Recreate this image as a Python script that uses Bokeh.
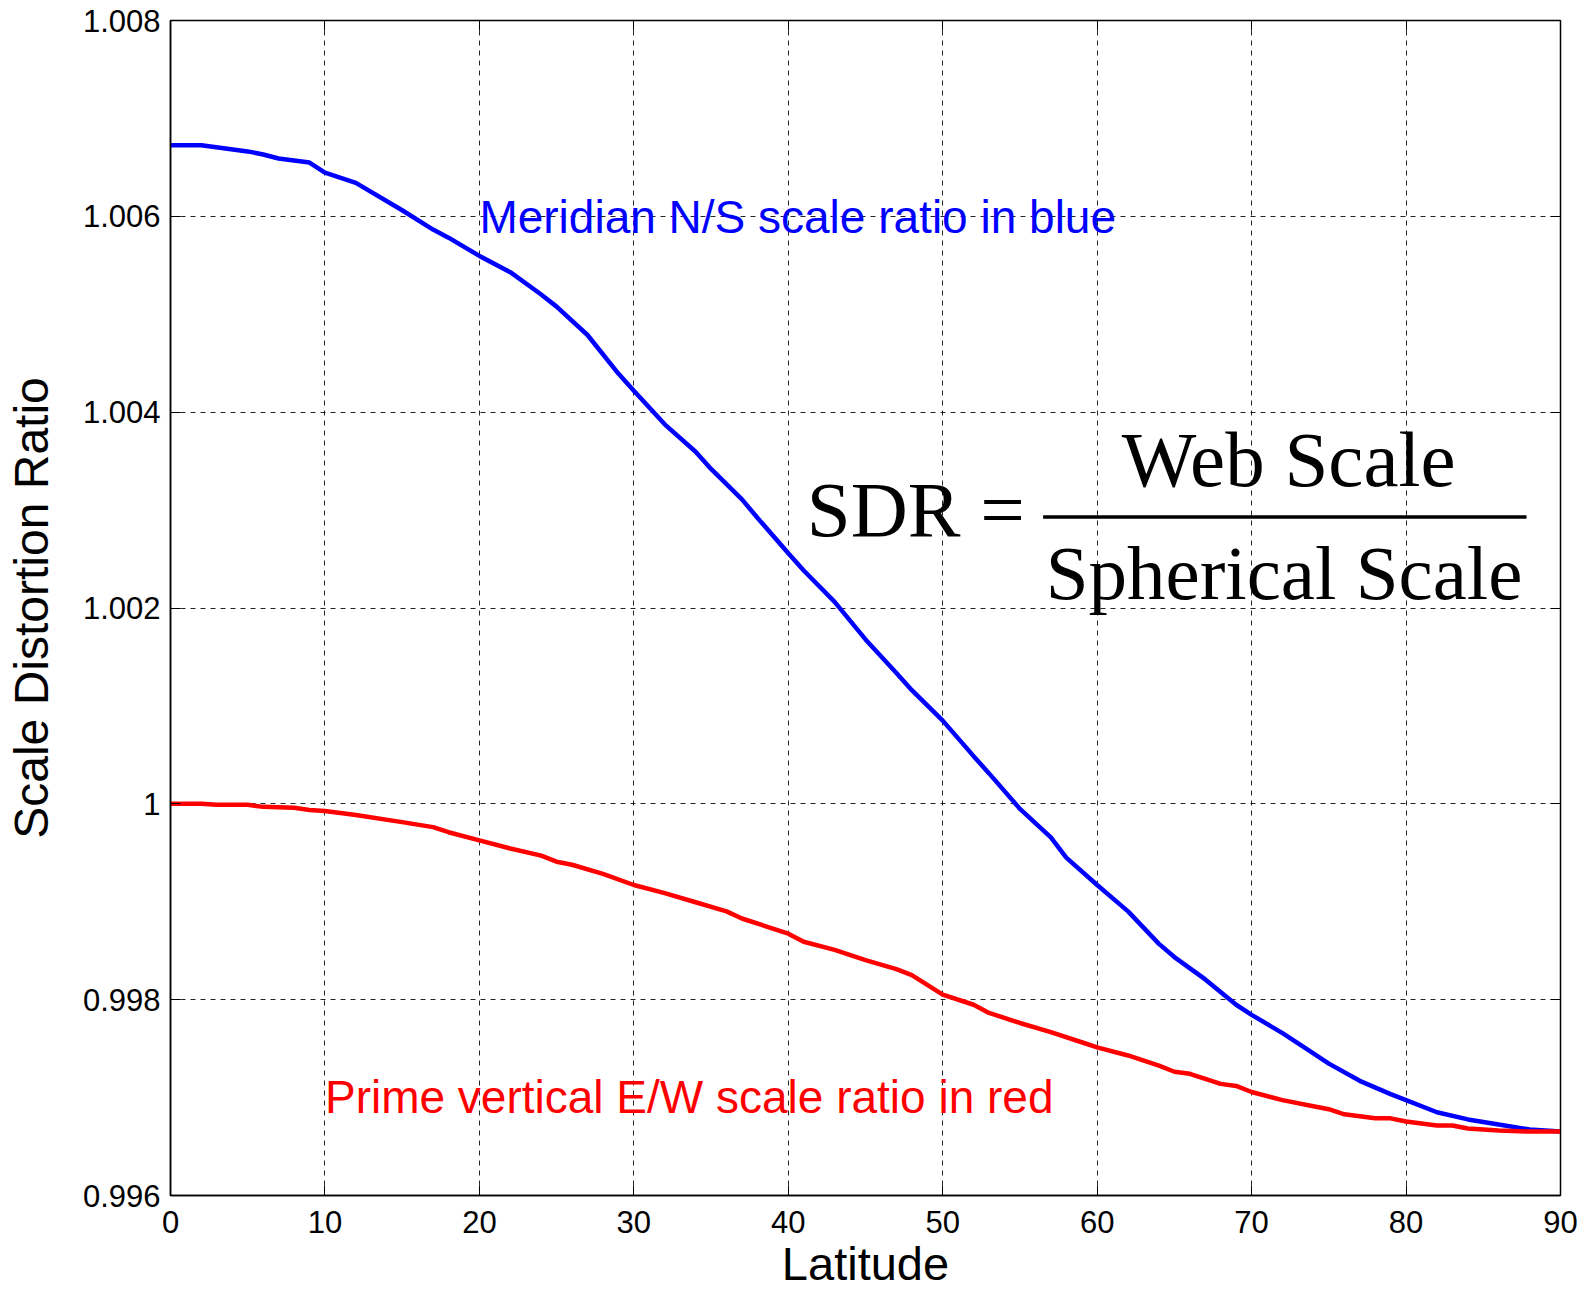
from bokeh.plotting import figure
from bokeh.models import (LinearAxis, FixedTicker, Label, ColumnDataSource,
                          CustomLabelingPolicy)
from bokeh.embed import file_html
from bokeh.resources import INLINE

# ---------------- data ----------------
meridian_lat = [0, 2, 5, 6, 7, 9, 10, 12, 15, 17, 18, 20, 22, 24, 25, 27, 29, 30,
                32, 34, 35, 37, 38, 40, 41, 43, 45, 47, 48, 50, 52, 53, 55, 57,
                58, 60, 62, 64, 65, 67, 69, 70, 72, 74, 75, 77, 79, 80, 82, 84,
                86, 88, 90]
meridian_sdr = [1.006725, 1.006725, 1.006663, 1.006632, 1.006591, 1.006549,
                1.006446, 1.006342, 1.006062, 1.005865, 1.005782, 1.005596,
                1.005430, 1.005202, 1.005078, 1.004788, 1.004394, 1.004218,
                1.003876, 1.003596, 1.003420, 1.003109, 1.002922, 1.002560,
                1.002383, 1.002062, 1.001679, 1.001337, 1.001161, 1.000850,
                1.000487, 1.000311, 0.999948, 0.999658, 0.999451, 0.999171,
                0.998902, 0.998570, 0.998435, 0.998207, 0.997948, 0.997845,
                0.997658, 0.997451, 0.997347, 0.997171, 0.997036, 0.996974,
                0.996850, 0.996777, 0.996725, 0.996674, 0.996653]

prime_lat = [0, 2, 3, 5, 6, 8, 9, 10, 12, 15, 17, 18, 20, 22, 24, 25, 26, 28, 30,
             32, 34, 36, 37, 40, 41, 43, 45, 47, 48, 50, 52, 53, 55, 57, 59, 60,
             62, 64, 65, 66, 68, 69, 70, 72, 74, 75, 76, 78, 79, 80, 82, 83, 84,
             86, 88, 90]
prime_sdr = [1.000000, 1.000000, 0.999990, 0.999990, 0.999969, 0.999959,
             0.999938, 0.999927, 0.999886, 0.999813, 0.999762, 0.999710,
             0.999627, 0.999544, 0.999471, 0.999409, 0.999378, 0.999285,
             0.999171, 0.999088, 0.998995, 0.998902, 0.998829, 0.998674,
             0.998591, 0.998508, 0.998404, 0.998311, 0.998250, 0.998052,
             0.997948, 0.997865, 0.997762, 0.997668, 0.997565, 0.997513,
             0.997430, 0.997326, 0.997264, 0.997243, 0.997140, 0.997119,
             0.997057, 0.996974, 0.996912, 0.996881, 0.996829, 0.996788,
             0.996788, 0.996756, 0.996715, 0.996715, 0.996684, 0.996663,
             0.996653, 0.996653]

x_ticks = [0, 10, 20, 30, 40, 50, 60, 70, 80, 90]
y_ticks = [0.996, 0.998, 1.0, 1.002, 1.004, 1.006, 1.008]
y_tick_labels = ["0.996", "0.998", "1", "1.002", "1.004", "1.006", "1.008"]

# ---------------- figure ----------------
W, H = 1588, 1293
p = figure(width=W, height=H, x_range=(0, 90), y_range=(0.996, 1.008),
           output_backend="svg", toolbar_location=None,
           min_border_left=170, min_border_right=W - 1560,
           min_border_top=20, min_border_bottom=H - 1195,
           background_fill_color="white", border_fill_color="white")

p.outline_line_color = "black"
p.outline_line_width = 1.5

FONT = "Liberation Sans"

for ax in (p.xaxis[0], p.yaxis[0]):
    ax.major_label_text_font = FONT
    ax.major_label_text_font_size = "31px"
    ax.major_label_text_color = "black"
    ax.axis_label_text_font = FONT
    ax.axis_label_text_font_style = "normal"
    ax.axis_label_text_font_size = "48px"
    ax.axis_label_text_color = "black"
    ax.major_tick_in = 10
    ax.major_tick_out = 0
    ax.minor_tick_in = 0
    ax.minor_tick_out = 0
    ax.axis_line_color = "black"
    ax.axis_line_width = 1.5
    ax.major_tick_line_color = "black"

p.xaxis[0].ticker = FixedTicker(ticks=x_ticks)
p.yaxis[0].ticker = FixedTicker(ticks=y_ticks)
p.yaxis[0].major_label_overrides = {t: s for t, s in zip(y_ticks, y_tick_labels)}
p.xaxis[0].axis_label = "Latitude"
p.xaxis[0].axis_label_text_font_size = "47px"
p.yaxis[0].axis_label = "Scale Distortion Ratio"
p.xaxis[0].major_label_standoff = 15
p.xaxis[0].axis_label_standoff = 1
p.yaxis[0].major_label_standoff = 10
p.yaxis[0].axis_label_standoff = 22

no_labels = CustomLabelingPolicy(code="return new Set()")

# box ticks on top and right
top_ax = LinearAxis(ticker=FixedTicker(ticks=x_ticks), major_label_text_font_size="0px",
                    major_label_policy=no_labels,
                    major_tick_in=10, major_tick_out=0, minor_tick_in=0, minor_tick_out=0,
                    axis_line_color="black", major_tick_line_color="black",
                    major_label_standoff=0)
right_ax = LinearAxis(ticker=FixedTicker(ticks=y_ticks), major_label_text_font_size="0px",
                      major_label_policy=no_labels,
                      major_tick_in=10, major_tick_out=0, minor_tick_in=0, minor_tick_out=0,
                      axis_line_color="black", major_tick_line_color="black",
                      major_label_standoff=0)
p.add_layout(top_ax, "above")
p.add_layout(right_ax, "right")

# grid
for g in (p.xgrid[0], p.ygrid[0]):
    g.grid_line_color = "black"
    g.grid_line_dash = "5 5"
    g.grid_line_width = 1
    g.grid_line_alpha = 0.85
p.xgrid[0].ticker = FixedTicker(ticks=x_ticks)
p.ygrid[0].ticker = FixedTicker(ticks=y_ticks)

# curves
src_m = ColumnDataSource(dict(x=meridian_lat, y=meridian_sdr))
src_p = ColumnDataSource(dict(x=prime_lat, y=prime_sdr))
p.line("x", "y", source=src_m, line_color="#0000ff", line_width=4.5)
p.line("x", "y", source=src_p, line_color="#ff0000", line_width=4.5)

# annotations
p.add_layout(Label(x=20, y=1.005990, text="Meridian N/S scale ratio in blue",
                   text_font=FONT, text_font_size="46px", text_color="#0000ff",
                   text_baseline="alphabetic", text_align="left"))
p.add_layout(Label(x=10, y=0.997009, text="Prime vertical E/W scale ratio in red",
                   text_font=FONT, text_font_size="46px", text_color="#ff0000",
                   text_baseline="alphabetic", text_align="left"))

SERIF = "Liberation Serif"
p.add_layout(Label(x=41.2, y=1.003002, text="SDR =", text_font=SERIF,
                   text_font_size="79px", text_color="black",
                   text_baseline="alphabetic", text_align="left"))
p.add_layout(Label(x=72.4, y=1.003520, text="Web Scale", text_font=SERIF,
                   text_font_size="79px", text_color="black",
                   text_baseline="alphabetic", text_align="center"))
p.add_layout(Label(x=72.1, y=1.002360, text="Spherical Scale", text_font=SERIF,
                   text_font_size="77px", text_color="black",
                   text_baseline="alphabetic", text_align="center"))
p.segment(x0=[56.5], y0=[1.002930], x1=[87.8], y1=[1.002930],
          line_color="black", line_width=3.5)

open("out.html", "w").write(file_html(p, INLINE))
